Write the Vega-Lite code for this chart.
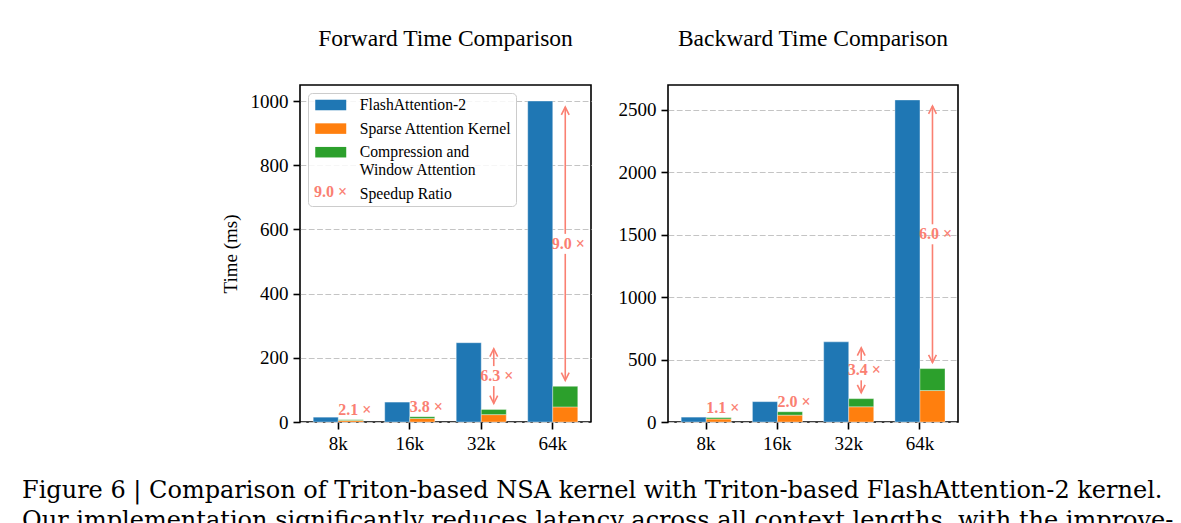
{
  "$schema": "https://vega.github.io/schema/vega-lite/v6.json",
  "background": "white",
  "padding": {"left": 22, "top": 25, "right": 5, "bottom": 0},
  "config": {
    "font": "Liberation Serif",
    "view": {"stroke": "black", "strokeWidth": 1.6},
    "axis": {
      "labelFont": "Liberation Serif", "labelFontSize": 19, "labelColor": "black",
      "titleFont": "Liberation Serif", "titleFontSize": 19, "titleFontWeight": "normal", "titleColor": "black",
      "tickColor": "black", "tickWidth": 1.6, "tickSize": 7, "labelPadding": 5, "domain": false
    }
  },
  "datasets": {
    "fwd_bars": [
      {"context": "8k", "method": "FA", "series": "FlashAttention-2", "time": 15},
      {"context": "16k", "method": "FA", "series": "FlashAttention-2", "time": 62},
      {"context": "32k", "method": "FA", "series": "FlashAttention-2", "time": 247},
      {"context": "64k", "method": "FA", "series": "FlashAttention-2", "time": 1000},
      {"context": "8k", "method": "NSA", "series": "Sparse Attention Kernel", "time": 4.6},
      {"context": "16k", "method": "NSA", "series": "Sparse Attention Kernel", "time": 11},
      {"context": "32k", "method": "NSA", "series": "Sparse Attention Kernel", "time": 23},
      {"context": "64k", "method": "NSA", "series": "Sparse Attention Kernel", "time": 47},
      {"context": "8k", "method": "NSA", "series": "Compression and Window Attention", "time": 2.5},
      {"context": "16k", "method": "NSA", "series": "Compression and Window Attention", "time": 5.5},
      {"context": "32k", "method": "NSA", "series": "Compression and Window Attention", "time": 16},
      {"context": "64k", "method": "NSA", "series": "Compression and Window Attention", "time": 64}
    ],
    "fwd_small": [
      {"context": "8k", "method": "NSA", "nsa": 7.1, "label": "2.1 ×"},
      {"context": "16k", "method": "NSA", "nsa": 16.5, "label": "3.8 ×"}
    ],
    "fwd_big": [
      {"context": "32k", "method": "NSA", "fa": 247, "nsa": 39, "mid": 143, "label": "6.3 ×"},
      {"context": "64k", "method": "NSA", "fa": 1000, "nsa": 111, "mid": 555, "label": "9.0 ×"}
    ],
    "bwd_bars": [
      {"context": "8k", "method": "FA", "series": "FlashAttention-2", "time": 39},
      {"context": "16k", "method": "FA", "series": "FlashAttention-2", "time": 163},
      {"context": "32k", "method": "FA", "series": "FlashAttention-2", "time": 642},
      {"context": "64k", "method": "FA", "series": "FlashAttention-2", "time": 2580},
      {"context": "8k", "method": "NSA", "series": "Sparse Attention Kernel", "time": 24},
      {"context": "16k", "method": "NSA", "series": "Sparse Attention Kernel", "time": 55},
      {"context": "32k", "method": "NSA", "series": "Sparse Attention Kernel", "time": 122},
      {"context": "64k", "method": "NSA", "series": "Sparse Attention Kernel", "time": 252},
      {"context": "8k", "method": "NSA", "series": "Compression and Window Attention", "time": 11},
      {"context": "16k", "method": "NSA", "series": "Compression and Window Attention", "time": 27},
      {"context": "32k", "method": "NSA", "series": "Compression and Window Attention", "time": 65},
      {"context": "64k", "method": "NSA", "series": "Compression and Window Attention", "time": 176}
    ],
    "bwd_small": [
      {"context": "8k", "method": "NSA", "nsa": 35, "label": "1.1 ×"},
      {"context": "16k", "method": "NSA", "nsa": 82, "label": "2.0 ×"}
    ],
    "bwd_big": [
      {"context": "32k", "method": "NSA", "fa": 642, "nsa": 187, "mid": 414, "label": "3.4 ×"},
      {"context": "64k", "method": "NSA", "fa": 2580, "nsa": 428, "mid": 1504, "label": "6.0 ×"}
    ]
  },
  "title": {
    "text": ["Figure 6 | Comparison of Triton-based NSA kernel with Triton-based FlashAttention-2 kernel.", "Our implementation significantly reduces latency across all context lengths, with the improve-"],
    "orient": "bottom", "anchor": "start", "frame": "group", "dx": -278, "offset": 25,
    "font": "DejaVu Serif", "fontSize": 24, "fontWeight": "normal", "color": "black", "lineHeight": 30, "baseline": "top"
  },
  "spacing": 25,
  "resolve": {"scale": {"color": "independent", "y": "independent", "x": "independent"}, "legend": {"color": "independent", "opacity": "independent"}},
  "hconcat": [
    {
      "width": 291, "height": 337,
      "title": {"text": "Forward Time Comparison", "font": "Liberation Serif", "fontSize": 23.5, "fontWeight": "normal", "color": "black", "offset": 16, "baseline": "alphabetic"},
      "encoding": {
        "x": {"field": "context", "type": "nominal", "sort": ["8k", "16k", "32k", "64k"], "scale": {"paddingInner": 0.3, "paddingOuter": 0.185}, "axis": {"title": null, "labelAngle": 0, "grid": false}},
        "xOffset": {"field": "method", "type": "nominal", "sort": ["FA", "NSA"], "scale": {"domain": ["FA", "NSA"], "paddingInner": 0, "paddingOuter": 0}}
      },
      "layer": [
        {
          "data": {"name": "fwd_bars"},
          "mark": {"type": "bar", "stroke": "white", "strokeWidth": 0.6, "strokeOpacity": 0.6},
          "encoding": {
            "y": {"field": "time", "type": "quantitative", "stack": "zero", "scale": {"domain": [0, 1050], "nice": false}, "axis": {"title": "Time (ms)", "titlePadding": 10, "format": "d", "values": [0, 200, 400, 600, 800, 1000], "grid": true, "gridDash": [5.8, 2.5], "gridColor": "#c4c4c4", "gridWidth": 1}},
            "color": {
              "field": "series", "type": "nominal",
              "scale": {"domain": ["FlashAttention-2", "Sparse Attention Kernel", "Compression and Window Attention", "Speedup Ratio"], "range": ["#1f77b4", "#ff7f0e", "#2ca02c", "rgba(255,255,255,0)"]},
              "legend": {
                "orient": "top-left", "offset": 8, "title": null, "padding": 4,
                "fillColor": "rgba(255,255,255,0.85)", "strokeColor": "#cccccc", "cornerRadius": 4,
                "symbolType": "M-1,-0.68H3V0.68H-1Z", "symbolSize": 240, "symbolStrokeWidth": 0, "symbolOpacity": 1, "symbolOffset": 3,
                "labelFont": "Liberation Serif", "labelFontSize": 15.7, "labelColor": "black", "labelOffset": 28.8, "labelLimit": 300,
                "rowPadding": 7.6,
                "labelExpr": "datum.label == 'Compression and Window Attention' ? ['Compression and', 'Window Attention'] : datum.label",
                "encode": {
                  "labels": {"lineHeight": {"value": 15.7}}
                }
              }
            },
            "order": {"field": "series", "sort": "descending"}
          }
        },
        {
          "data": {"name": "fwd_small"},
          "mark": {"type": "text", "font": "Liberation Serif", "fontSize": 16, "fontWeight": "bold", "color": "#fa8072", "dy": -10, "dx": 4, "baseline": "middle", "align": "center"},
          "encoding": {"y": {"field": "nsa", "type": "quantitative"}, "text": {"field": "label"}}
        },
        {
          "data": {"name": "fwd_big"},
          "mark": {"type": "rule", "color": "#fa8072", "strokeWidth": 1.6, "yOffset": 6, "y2Offset": -10},
          "encoding": {"y": {"field": "fa", "type": "quantitative"}, "y2": {"field": "mid"}}
        },
        {
          "data": {"name": "fwd_big"},
          "mark": {"type": "rule", "color": "#fa8072", "strokeWidth": 1.6, "yOffset": 10, "y2Offset": -6},
          "encoding": {"y": {"field": "mid", "type": "quantitative"}, "y2": {"field": "nsa"}}
        },
        {
          "data": {"name": "fwd_big"},
          "mark": {"type": "point", "shape": "M-0.5,1L0,0L0.5,1", "filled": false, "stroke": "#fa8072", "strokeWidth": 1.6, "size": 243, "opacity": 1, "yOffset": 6},
          "encoding": {"y": {"field": "fa", "type": "quantitative"}}
        },
        {
          "data": {"name": "fwd_big"},
          "mark": {"type": "point", "shape": "M-0.5,-1L0,0L0.5,-1", "filled": false, "stroke": "#fa8072", "strokeWidth": 1.6, "size": 243, "opacity": 1, "yOffset": -6},
          "encoding": {"y": {"field": "nsa", "type": "quantitative"}}
        },
        {
          "data": {"name": "fwd_big"},
          "mark": {"type": "text", "font": "Liberation Serif", "fontSize": 16, "fontWeight": "bold", "color": "#fa8072", "dx": 3, "baseline": "middle", "align": "center"},
          "encoding": {
            "y": {"field": "mid", "type": "quantitative"},
            "text": {"field": "label"},
            "opacity": {
              "datum": "9.0 ×", "type": "ordinal",
              "scale": {"domain": ["9.0 ×"], "range": [1]},
              "legend": {
                "orient": "none", "legendX": -2, "legendY": 99, "title": null, "padding": 0,
                "symbolOpacity": 0, "symbolSize": 0, "symbolType": "circle", "labelOffset": 0,
                "labelFont": "Liberation Serif", "labelFontSize": 16, "labelFontWeight": "bold", "labelColor": "#fa8072"
              }
            }
          }
        }
      ]
    },
    {
      "width": 290, "height": 337,
      "title": {"text": "Backward Time Comparison", "font": "Liberation Serif", "fontSize": 23.5, "fontWeight": "normal", "color": "black", "offset": 16, "baseline": "alphabetic"},
      "encoding": {
        "x": {"field": "context", "type": "nominal", "sort": ["8k", "16k", "32k", "64k"], "scale": {"paddingInner": 0.3, "paddingOuter": 0.185}, "axis": {"title": null, "labelAngle": 0, "grid": false}},
        "xOffset": {"field": "method", "type": "nominal", "sort": ["FA", "NSA"], "scale": {"domain": ["FA", "NSA"], "paddingInner": 0, "paddingOuter": 0}}
      },
      "layer": [
        {
          "data": {"name": "bwd_bars"},
          "mark": {"type": "bar", "stroke": "white", "strokeWidth": 0.6, "strokeOpacity": 0.6},
          "encoding": {
            "y": {"field": "time", "type": "quantitative", "stack": "zero", "scale": {"domain": [0, 2700], "nice": false}, "axis": {"title": null, "format": "d", "values": [0, 500, 1000, 1500, 2000, 2500], "grid": true, "gridDash": [5.8, 2.5], "gridColor": "#c4c4c4", "gridWidth": 1}},
            "color": {
              "field": "series", "type": "nominal",
              "scale": {"domain": ["FlashAttention-2", "Sparse Attention Kernel", "Compression and Window Attention"], "range": ["#1f77b4", "#ff7f0e", "#2ca02c"]},
              "legend": null
            },
            "order": {"field": "series", "sort": "descending"}
          }
        },
        {
          "data": {"name": "bwd_small"},
          "mark": {"type": "text", "font": "Liberation Serif", "fontSize": 16, "fontWeight": "bold", "color": "#fa8072", "dy": -10, "dx": 4, "baseline": "middle", "align": "center"},
          "encoding": {"y": {"field": "nsa", "type": "quantitative"}, "text": {"field": "label"}}
        },
        {
          "data": {"name": "bwd_big"},
          "mark": {"type": "rule", "color": "#fa8072", "strokeWidth": 1.6, "yOffset": 6, "y2Offset": -10},
          "encoding": {"y": {"field": "fa", "type": "quantitative"}, "y2": {"field": "mid"}}
        },
        {
          "data": {"name": "bwd_big"},
          "mark": {"type": "rule", "color": "#fa8072", "strokeWidth": 1.6, "yOffset": 10, "y2Offset": -6},
          "encoding": {"y": {"field": "mid", "type": "quantitative"}, "y2": {"field": "nsa"}}
        },
        {
          "data": {"name": "bwd_big"},
          "mark": {"type": "point", "shape": "M-0.5,1L0,0L0.5,1", "filled": false, "stroke": "#fa8072", "strokeWidth": 1.6, "size": 243, "opacity": 1, "yOffset": 6},
          "encoding": {"y": {"field": "fa", "type": "quantitative"}}
        },
        {
          "data": {"name": "bwd_big"},
          "mark": {"type": "point", "shape": "M-0.5,-1L0,0L0.5,-1", "filled": false, "stroke": "#fa8072", "strokeWidth": 1.6, "size": 243, "opacity": 1, "yOffset": -6},
          "encoding": {"y": {"field": "nsa", "type": "quantitative"}}
        },
        {
          "data": {"name": "bwd_big"},
          "mark": {"type": "text", "font": "Liberation Serif", "fontSize": 16, "fontWeight": "bold", "color": "#fa8072", "dx": 3, "baseline": "middle", "align": "center"},
          "encoding": {"y": {"field": "mid", "type": "quantitative"}, "text": {"field": "label"}}
        }
      ]
    }
  ]
}
